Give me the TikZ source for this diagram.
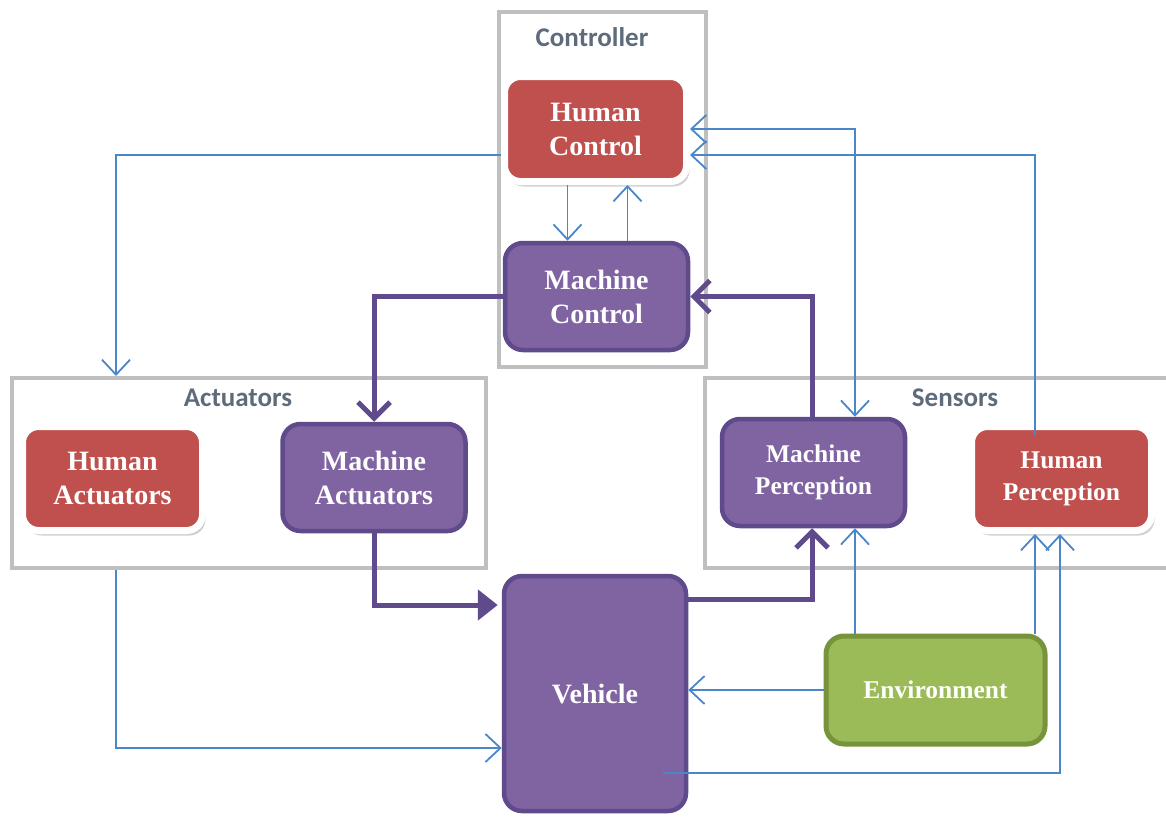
\documentclass[tikz,border=0pt]{standalone}
\usepackage{fontspec}
\setmainfont{Liberation Serif}
\newfontfamily\labfont{Carlito}
\usetikzlibrary{arrows.meta,shadows,calc}
\definecolor{hred}{HTML}{C0504D}
\definecolor{mpur}{HTML}{8064A2}
\definecolor{mpurd}{HTML}{5F4A8B}
\definecolor{egreen}{HTML}{9BBB59}
\definecolor{egreend}{HTML}{77933C}
\definecolor{lblue}{HTML}{4A86C8}
\definecolor{gbox}{HTML}{BFBFBF}
\definecolor{glab}{HTML}{5D6B7B}
\tikzset{
  grpbox/.style={draw=gbox, line width=4pt, inner sep=0pt},
  grplab/.style={text=glab, font=\labfont\bfseries\fontsize{27}{30}\selectfont, inner sep=0pt},
  humbox/.style={fill=hred, draw=white, line width=7pt, rounded corners=16pt, text=white,
    align=center, inner sep=0pt, minimum width=182pt, minimum height=105pt,
    font=\bfseries\fontsize{28}{34}\selectfont,
    drop shadow={shadow xshift=3pt, shadow yshift=-5pt, opacity=0.3, fill=black!60}},
  macbox/.style={fill=mpur, draw=mpurd, line width=4.5pt, rounded corners=18pt, text=white,
    align=center, inner sep=0pt, minimum width=183pt, minimum height=107pt,
    font=\bfseries\fontsize{28}{34}\selectfont},
  smallfont/.style={font=\bfseries\fontsize{25.5}{32}\selectfont},
  envbox/.style={fill=egreen, draw=egreend, line width=5pt, rounded corners=18pt, text=white,
    align=center, inner sep=0pt, minimum width=219pt, minimum height=108pt,
    font=\bfseries\fontsize{25.5}{32}\selectfont},
  btip/.tip={Straight Barb[length=15pt,width=28pt,line width=1.8pt]},
  bl/.style={draw=lblue, line width=1.8pt, -btip},
  pl/.style={draw=mpurd, line width=5pt, -{Straight Barb[length=16pt,width=32pt,line width=5pt]}},
}
\begin{document}
\begin{tikzpicture}[x=1pt,y=-1pt]
\useasboundingbox (0,0) rectangle (1166,816);
% group boxes
\node[grpbox, minimum width=207pt, minimum height=355pt] (ctrlbox) at (602.5,189.5) {};
\node[grpbox, minimum width=474pt, minimum height=190pt] (actbox) at (249,473) {};
\node[grpbox, minimum width=467pt, minimum height=190pt] (senbox) at (938.5,473) {};
\node[grplab] (ctrllab) at (592,37) {Controller};
\node[grplab] (actlab) at (238,398) {Actuators};
\node[grplab] (senlab) at (955,398) {Sensors};
% nodes
\node[humbox] (HC) at (595.5,129) {Human\\Control};
\node[macbox] (MC) at (596.5,296.5) {Machine\\Control};
\node[humbox, minimum width=180pt, minimum height=104pt] (HA) at (112.5,478.5) {Human\\Actuators};
\node[macbox] (MA) at (374,477.5) {Machine\\Actuators};
\node[macbox, smallfont] (MP) at (813.5,472.5) {Machine\\Perception};
\node[humbox, smallfont, minimum width=180pt, minimum height=104pt] (HP) at (1061.5,478.5) {Human\\Perception};
\node[macbox, minimum width=182pt, minimum height=235pt] (V) at (595,693.5) {Vehicle};
\node[envbox] (E) at (935.5,690) {Environment};
% thin blue connectors
\draw[bl] ([yshift=-26pt]HC.west) -| ([xshift=106pt]actbox.north west);
\draw[bl] ([xshift=-28pt]HC.south) -- ([xshift=-28pt]HC.south |- MC.north);
\draw[bl] ([xshift=31pt]MC.north) -- ([xshift=31pt]MC.north |- HC.south);
\draw[bl, btip-btip] (HC.east) -| ([xshift=41.5pt]MP.north);
\draw[bl] ([xshift=-26.5pt,yshift=-12pt]HP.north) |- ([yshift=-26pt]HC.east);
\draw[bl] ([xshift=106pt]actbox.south west) |- ([yshift=-54.5pt]V.west);
\draw[bl] (E.west) -- (E.west -| V.east);
\draw[bl] ([xshift=-80.5pt]E.north) -- ([xshift=-80.5pt]E.north |- MP.south);
\draw[bl] ([xshift=99.5pt]E.north) -- ([xshift=99.5pt]E.north |- HP.south);
\draw[bl] ([xshift=-25pt,yshift=-79.5pt]V.east) -| ([xshift=-1.5pt]HP.south);
% thick purple connectors
\draw[pl] (MC.west) -| (MA.north);
\draw[pl, -{Triangle[length=20pt,width=30pt]}, shorten >=4pt] (MA.south) |- ([yshift=88.5pt]V.west);
\draw[pl] ([yshift=94.5pt]V.east) -| ([xshift=-1.5pt]MP.south);
\draw[pl] ([xshift=-1.5pt]MP.north) |- (MC.east);
\end{tikzpicture}
\end{document}
